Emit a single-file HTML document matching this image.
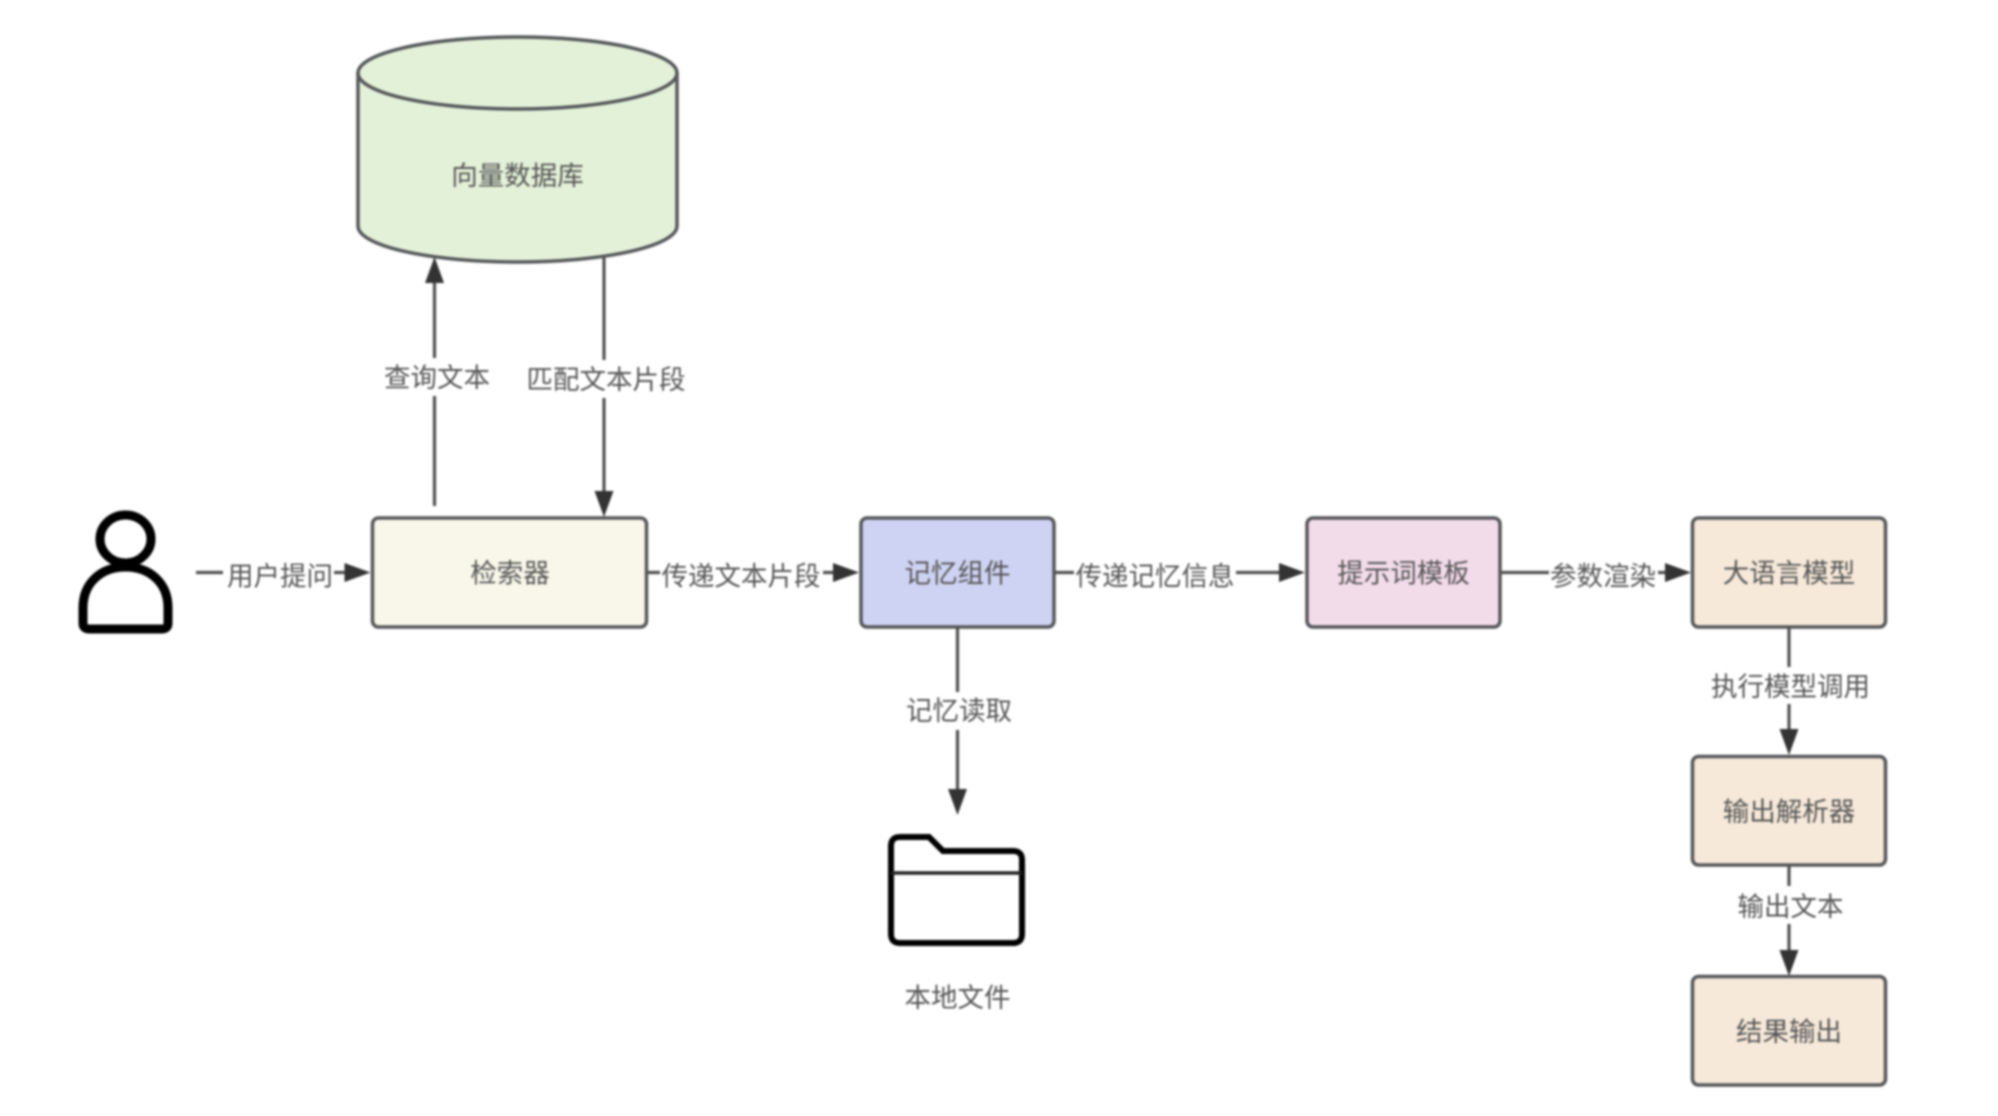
<!DOCTYPE html>
<html><head><meta charset="utf-8"><style>
html,body{margin:0;padding:0;background:#fff;width:1998px;height:1116px;overflow:hidden}
svg{display:block;filter:blur(1px)}
text{font-family:"Liberation Sans","Noto Sans CJK SC",sans-serif;font-size:26.5px;fill:#555;text-anchor:middle;dominant-baseline:central}
.b{stroke:#55575a;stroke-width:3.5}
.l{stroke:#505050;stroke-width:3.2;fill:none}
.a{fill:#333;stroke:none}
.i{stroke:#000;fill:#fff}
</style></head><body>
<svg width="1998" height="1116" viewBox="0 0 1998 1116" xmlns="http://www.w3.org/2000/svg">
<rect width="1998" height="1116" fill="#fff"/>
<path class="b" fill="#e4f1d9" d="M358 73A159.500 36 0 0 1 677 73V226A159.500 36 0 0 1 358 226Z"/>
<path class="b" fill="none" d="M358 73A159.500 36 0 0 0 677 73"/>
<text x="517.500" y="176">向量数据库</text>
<rect class="b" fill="#f9f7ea" x="372.500" y="518" width="274" height="109" rx="6"/><text x="510" y="573.500">检索器</text>
<rect class="b" fill="#cfd3f3" x="861" y="518" width="193" height="109" rx="6"/><text x="957.500" y="573.500">记忆组件</text>
<rect class="b" fill="#f3dcea" x="1307" y="518" width="193" height="109" rx="6"/><text x="1403.500" y="573.500">提示词模板</text>
<rect class="b" fill="#f6e9da" x="1692.500" y="518" width="193" height="109" rx="6"/><text x="1789" y="573.500">大语言模型</text>
<rect class="b" fill="#f6e9da" x="1692.500" y="756.500" width="193" height="108.500" rx="6"/><text x="1789" y="812">输出解析器</text>
<rect class="b" fill="#f6e9da" x="1692.500" y="976.500" width="193" height="108.500" rx="6"/><text x="1789" y="1032">结果输出</text>
<ellipse class="i" cx="125.500" cy="539" rx="25.500" ry="24" stroke-width="9"/>
<path class="i" stroke-width="9" d="M83 623V608C83 583 101 567 125.500 567S168 583 168 608V623Q168 629 162 629H89Q83 629 83 623Z"/>
<path class="i" stroke-width="6" d="M891 846Q891 837 900 837H929L943 851H1013Q1022 851 1022 860V934Q1022 943 1013 943H900Q891 943 891 934Z"/>
<path d="M891 873H1022" stroke="#222" stroke-width="3.500" fill="none"/>
<text x="957.500" y="998">本地文件</text>
<path class="l" d="M434.500 506V276"/><path class="a" d="M434.500 257l-9.500 26h19z"/>
<path class="l" d="M604 258V497"/><path class="a" d="M604 517l-9.500-26h19z"/>
<path class="l" d="M196 572.500H350"/><path class="a" d="M370.500 572.500l-26-9.500v19z"/>
<path class="l" d="M648 572.500H840"/><path class="a" d="M859 572.500l-26-9.500v19z"/>
<path class="l" d="M1055 572.500H1285"/><path class="a" d="M1305 572.500l-26-9.500v19z"/>
<path class="l" d="M1501 572.500H1672"/><path class="a" d="M1691 572.500l-26-9.500v19z"/>
<path class="l" d="M957.500 627V795"/><path class="a" d="M957.500 815l-9.500-26h19z"/>
<path class="l" d="M1789 627V735"/><path class="a" d="M1789 755l-9.500-26h19z"/>
<path class="l" d="M1789 866V956"/><path class="a" d="M1789 976l-9.500-26h19z"/>
<g fill="#fff">
<rect x="381" y="358" width="112" height="38"/><rect x="523" y="360" width="166" height="38"/>
<rect x="223" y="556" width="111" height="38"/><rect x="660" y="556" width="163" height="38"/>
<rect x="1074" y="556" width="162" height="38"/><rect x="1549" y="556" width="109" height="38"/>
<rect x="903" y="692" width="112" height="38"/><rect x="1706" y="667" width="168" height="37"/>
<rect x="1735" y="886" width="112" height="38"/>
</g>
<text x="437" y="378">查询文本</text><text x="606" y="380">匹配文本片段</text>
<text x="280" y="576.500">用户提问</text><text x="741" y="576.500">传递文本片段</text>
<text x="1155" y="576.500">传递记忆信息</text><text x="1603" y="576.500">参数渲染</text>
<text x="959" y="711">记忆读取</text><text x="1790.500" y="687">执行模型调用</text>
<text x="1790.500" y="907">输出文本</text>
</svg>
</body></html>
